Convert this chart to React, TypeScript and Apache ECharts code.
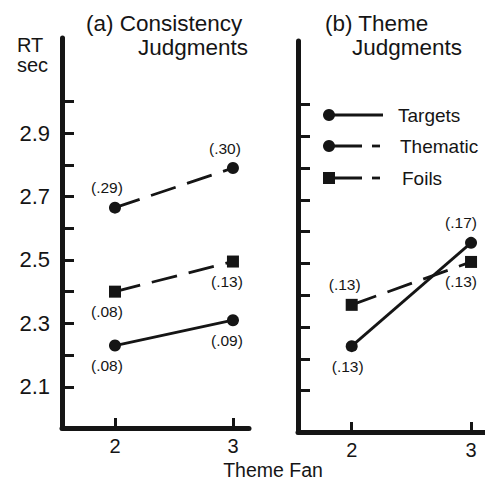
import React, { useEffect, useRef } from "react";
import * as echarts from "echarts";

// ---- data ----
const themeFan = [2, 3];
const consistencyTargets = [2.23, 2.31];
const consistencyThematic = [2.665, 2.79];
const consistencyFoils = [2.4, 2.495];
const themeTargets = [2.24, 2.565];
const themeFoils = [2.37, 2.505];

const consistencyTargetsSD = ["(.08)", "(.09)"];
const consistencyThematicSD = ["(.29)", "(.30)"];
const consistencyFoilsSD = ["(.08)", "(.13)"];
const themeTargetsSD = ["(.13)", "(.17)"];
const themeFoilsSD = ["(.13)", "(.13)"];

const yTickValues = [2.1, 2.2, 2.3, 2.4, 2.5, 2.6, 2.7, 2.8, 2.9, 3.0];
const yLabelValues = [2.1, 2.3, 2.5, 2.7, 2.9];
const legendNames = ["Targets", "Thematic", "Foils"];

const FONT = '"Liberation Sans", Arial, Helvetica, sans-serif';
const INK = "#151515";

type Place = { pos: "top" | "bottom"; dx: number; dist: number };

function makeSeries(
  name: string,
  values: number[],
  sds: string[],
  places: Place[],
  idx: number,
  symbol: string,
  dashed: boolean
) {
  return {
    name,
    type: "line",
    xAxisIndex: idx,
    yAxisIndex: idx,
    symbol,
    symbolSize: 12,
    showAllSymbol: true,
    lineStyle: {
      color: INK,
      width: 2.8,
      type: dashed ? [26, 12] : "solid",
    },
    itemStyle: { color: INK },
    data: values.map((v, i) => ({
      value: [themeFan[i], v],
      label: {
        show: true,
        formatter: sds[i],
        position: places[i].pos,
        distance: places[i].dist,
        offset: [places[i].dx, 0],
        color: INK,
        fontSize: 15.5,
        fontFamily: FONT,
      },
    })),
  };
}

function makeX(idx: number, min: number, max: number) {
  return {
    type: "value",
    gridIndex: idx,
    min,
    max,
    axisLine: { show: true, lineStyle: { color: INK, width: 5 } },
    axisTick: {
      show: true,
      inside: true,
      length: 10,
      customValues: themeFan,
      lineStyle: { color: INK, width: 3 },
    },
    axisLabel: {
      show: true,
      customValues: themeFan,
      margin: 8,
      color: INK,
      fontSize: 20,
      fontFamily: FONT,
    },
    splitLine: { show: false },
  };
}

function makeY(idx: number, showLabels: boolean) {
  return {
    type: "value",
    gridIndex: idx,
    min: 1.97,
    max: 3.2,
    axisLine: { show: true, lineStyle: { color: INK, width: 5 } },
    axisTick: {
      show: true,
      inside: true,
      length: 12,
      customValues: yTickValues,
      lineStyle: { color: INK, width: 3 },
    },
    axisLabel: {
      show: showLabels,
      customValues: yLabelValues,
      margin: 12,
      color: INK,
      fontSize: 22,
      fontFamily: FONT,
      formatter: (v: number) => v.toFixed(1),
    },
    splitLine: { show: false },
  };
}

export default function App() {
  const ref = useRef<HTMLDivElement>(null);

  useEffect(() => {
    if (!ref.current) return;
    const chart = echarts.init(ref.current, null, { renderer: "svg" });

    const txt = (text: string, x: number, y: number, size: number, align = "left") => ({
      type: "text",
      x,
      y,
      style: {
        text,
        fill: INK,
        font: `${size}px ${FONT}`,
        textAlign: align,
        textVerticalAlign: "middle",
      },
    });

    const legendRows = [
      { y: 115, symbol: "circle", dashed: false },
      { y: 146, symbol: "circle", dashed: true },
      { y: 178, symbol: "rect", dashed: true },
    ];
    const legendGraphics: any[] = [];
    legendRows.forEach((r, i) => {
      if (r.symbol === "circle") {
        legendGraphics.push({ type: "circle", shape: { cx: 329, cy: r.y, r: 6 }, style: { fill: INK } });
      } else {
        legendGraphics.push({ type: "rect", shape: { x: 323, y: r.y - 6, width: 12, height: 12 }, style: { fill: INK } });
      }
      if (r.dashed) {
        legendGraphics.push({ type: "line", shape: { x1: 329, y1: r.y, x2: 362, y2: r.y }, style: { stroke: INK, lineWidth: 2.8 } });
        legendGraphics.push({ type: "line", shape: { x1: 372, y1: r.y, x2: 380, y2: r.y }, style: { stroke: INK, lineWidth: 2.8 } });
      } else {
        legendGraphics.push({ type: "line", shape: { x1: 329, y1: r.y, x2: 383, y2: r.y }, style: { stroke: INK, lineWidth: 2.8 } });
      }
      legendGraphics.push(txt(legendNames[i], 398 + i * 2, r.y, 19));
    });

    const up = (dx = -7): Place => ({ pos: "top", dx, dist: 6 });
    const dn = (dx = -7): Place => ({ pos: "bottom", dx, dist: 6 });

    chart.setOption({
      animation: false,
      grid: [
        { left: 62, top: 38, width: 187, height: 390 },
        { left: 298, top: 41, width: 188, height: 391 },
      ],
      xAxis: [makeX(0, 1.551, 3.136), makeX(1, 1.55, 3.117)],
      yAxis: [makeY(0, true), makeY(1, false)],
      series: [
        makeSeries("Targets", consistencyTargets, consistencyTargetsSD, [dn(-8), dn(-6)], 0, "circle", false),
        makeSeries("Thematic", consistencyThematic, consistencyThematicSD, [up(-8), up(-8)], 0, "circle", true),
        makeSeries("Foils", consistencyFoils, consistencyFoilsSD, [dn(-8), dn(-6)], 0, "rect", true),
        makeSeries("Targets", themeTargets, themeTargetsSD, [dn(-4), up(-10)], 1, "circle", false),
        makeSeries("Foils", themeFoils, themeFoilsSD, [up(-7), dn(-10)], 1, "rect", true),
      ],
      graphic: [
        txt("(a) Consistency", 86, 23, 22.5),
        txt("Judgments", 138, 47, 22.5),
        txt("(b) Theme", 325, 23, 22.5),
        txt("Judgments", 352, 47, 22.5),
        txt("RT", 17, 45, 20),
        txt("sec", 17, 65, 20),
        txt("Theme Fan", 273, 470, 19.5, "center"),
        ...legendGraphics,
      ],
    });

    return () => chart.dispose();
  }, []);

  return <div ref={ref} style={{ width: 485, height: 482, position: "absolute", left: 0, top: 0 }} />;
}
